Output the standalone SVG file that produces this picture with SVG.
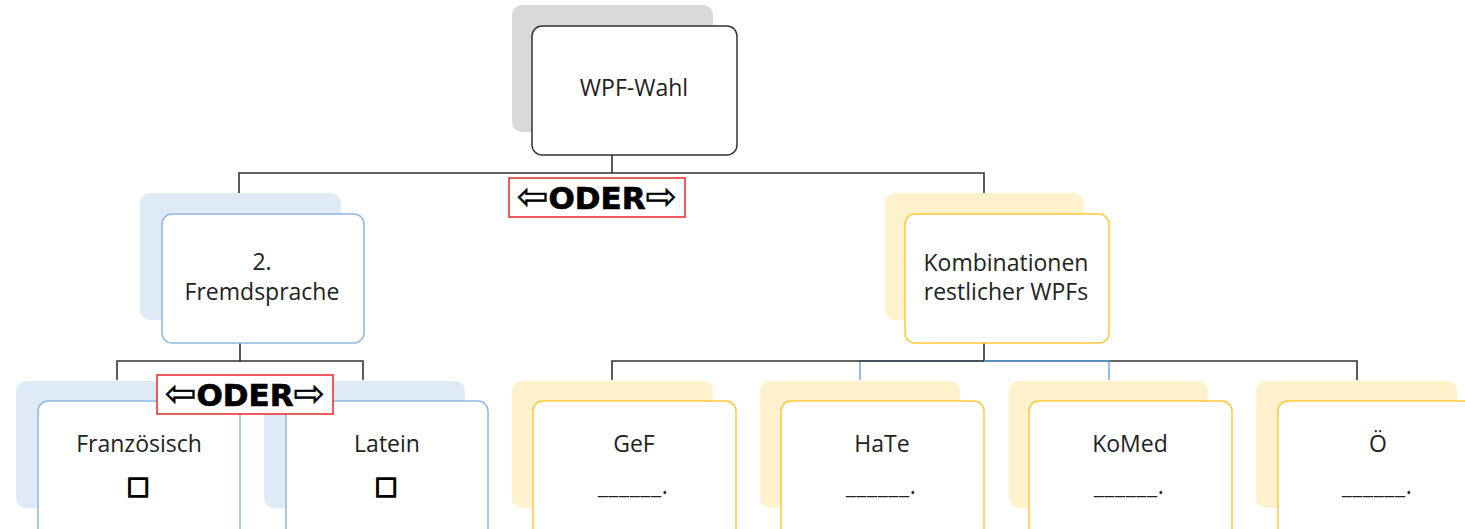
<svg xmlns="http://www.w3.org/2000/svg" width="1465" height="529" viewBox="0 0 1465 529">
<style>
.t{font-family:"Open Sans","DejaVu Sans",sans-serif;font-size:23px;fill:#222;text-anchor:middle}
.oder{font-family:"DejaVu Sans",sans-serif;font-weight:bold;font-size:31px;fill:#000;stroke:#000;stroke-width:0.7;text-anchor:middle}
.ar{font-size:38px;font-weight:normal;stroke-width:0.4}
.ob{fill:#fff;stroke:#e8262a;stroke-width:1.5}
.sg{fill:#d9d9d9}
.sb{fill:#deebf7}
.sy{fill:#fff2cc}
.mg{fill:#fff;stroke:#333;stroke-width:1.5}
.mb{fill:#fff;stroke:#8fb8e3;stroke-width:1.5}
.my{fill:#fff;stroke:#ffc83d;stroke-width:1.5}
.cd{fill:none;stroke:#333;stroke-width:1.6}
.cb{fill:none;stroke:#5b9bd5;stroke-width:1.3}
.chk{font-family:"DejaVu Sans",sans-serif;font-size:26px;fill:#000;stroke:#000;stroke-width:1.4;text-anchor:middle}
</style>
<g id="connectors">
<path class="cd" d="M612,155V173H239V193M612,173H984V193"/>
<path class="cd" d="M240,343V361H117V380M240,361H363V380"/>
<path class="cb" d="M984,361H860V380"/>
<path class="cd" d="M984,343V361H612V380"/>
<path class="cd" d="M984,361H1357V380"/>
<path class="cb" d="M984,361H1109V380"/>
</g>
<g id="root">
<rect class="sg" x="512" y="5" width="201" height="127" rx="10"/>
<rect class="mg" x="532" y="26" width="205" height="129" rx="10"/>
<text class="t" x="634" y="96">WPF-Wahl</text>
</g>
<g id="fremdsprache">
<rect class="sb" x="140" y="193" width="201" height="127" rx="10"/>
<rect class="mb" x="162" y="214" width="202" height="129" rx="10"/>
<text class="t" x="262" y="270">2.</text>
<text class="t" x="262" y="300">Fremdsprache</text>
</g>
<g id="kombinationen">
<rect class="sy" x="885" y="193" width="199" height="127" rx="10"/>
<rect class="my" x="905" y="214" width="204" height="129" rx="10"/>
<text class="t" x="1006" y="271">Kombinationen</text>
<text class="t" x="1006" y="300">restlicher WPFs</text>
</g>
<g id="franzoesisch">
<rect class="sb" x="16" y="381" width="201" height="127" rx="10"/>
<rect class="mb" x="38" y="401" width="202" height="140" rx="10"/>
<text class="t" x="139" y="452">Französisch</text>
<text class="chk" x="138" y="497">☐</text>
</g>
<g id="latein">
<rect class="sb" x="264" y="381" width="201" height="127" rx="10"/>
<rect class="mb" x="286" y="401" width="202" height="140" rx="10"/>
<text class="t" x="387" y="452">Latein</text>
<text class="chk" x="386" y="497">☐</text>
</g>
<g id="gef">
<rect class="sy" x="512" y="381" width="201" height="127" rx="10"/>
<rect class="my" x="533" y="401" width="203" height="140" rx="10"/>
<text class="t" x="634" y="452">GeF</text>
<text class="t" x="633" y="494" letter-spacing="0.6">______.</text>
</g>
<g id="hate">
<rect class="sy" x="760" y="381" width="200" height="127" rx="10"/>
<rect class="my" x="781" y="401" width="203" height="140" rx="10"/>
<text class="t" x="882" y="452">HaTe</text>
<text class="t" x="881" y="494" letter-spacing="0.6">______.</text>
</g>
<g id="komed">
<rect class="sy" x="1009" y="381" width="199" height="127" rx="10"/>
<rect class="my" x="1029" y="401" width="203" height="140" rx="10"/>
<text class="t" x="1130" y="452">KoMed</text>
<text class="t" x="1129" y="494" letter-spacing="0.6">______.</text>
</g>
<g id="oe">
<rect class="sy" x="1256" y="381" width="201" height="127" rx="10"/>
<rect class="my" x="1278" y="401" width="203" height="140" rx="10"/>
<text class="t" x="1378" y="452">Ö</text>
<text class="t" x="1377" y="494" letter-spacing="0.6">______.</text>
</g>
<g id="oder-top">
<rect class="ob" x="509" y="178" width="176" height="39"/>
<text class="oder" x="597" y="209"><tspan class="ar">⇦</tspan>ODER<tspan class="ar">⇨</tspan></text>
</g>
<g id="oder-left">
<rect class="ob" x="157" y="375" width="176" height="39"/>
<text class="oder" x="245" y="406"><tspan class="ar">⇦</tspan>ODER<tspan class="ar">⇨</tspan></text>
</g>
</svg>
